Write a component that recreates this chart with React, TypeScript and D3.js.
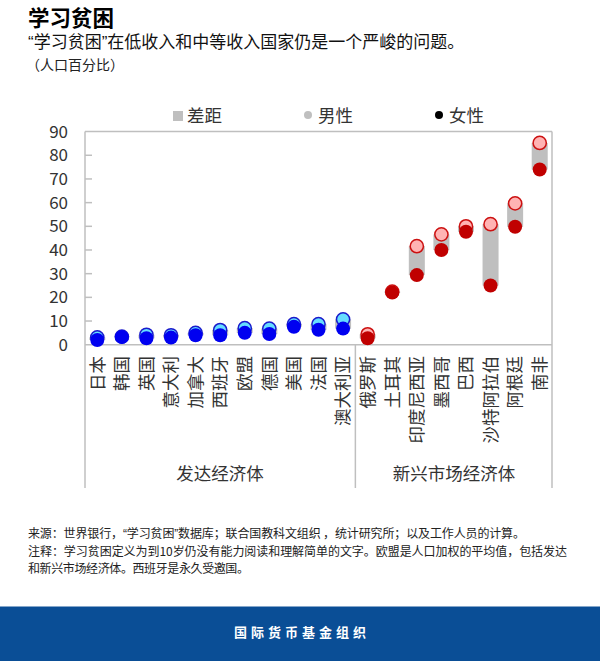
import React from "react";
import * as d3 from "d3";

const categories = ["日本","韩国","英国","意大利","加拿大","西班牙","欧盟","德国","美国","法国","澳大利亚","俄罗斯","土耳其","印度尼西亚","墨西哥","巴西","沙特阿拉伯","阿根廷","南非"];
const maleValues = [3.1,3.4,4.2,4.0,5.0,6.2,7.0,6.8,8.7,8.7,10.7,4.4,22.4,41.6,46.6,50,50.9,59.7,85.2];
const femaleValues = [2.0,3.2,2.7,3.0,4.0,4.0,5.0,4.5,7.6,6.3,6.8,2.7,22,29.4,40,47.7,25,49.8,74];
const yTicks = [0,10,20,30,40,50,60,70,80,90];
const advancedCount = 11;
const groupLabels = ["发达经济体","新兴市场经济体"];
const legendLabels = ["差距","男性","女性"];
const subtitle = "“学习贫困”在低收入和中等收入国家仍是一个严峻的问题。";
const sources = [
  "来源：世界银行，“学习贫困”数据库；联合国教科文组织 ，统计研究所；以及工作人员的计算。",
  "注释：学习贫困定义为到10岁仍没有能力阅读和理解简单的文字。欧盟是人口加权的平均值，包括发达",
  "和新兴市场经济体。西班牙是永久受邀国。",
];
const sourceWidths = [497, 539, 221];

const FONT = "'Noto Sans CJK SC', sans-serif";
const LEFT = 85, RIGHT = 552, TOP = 131.6, BASE = 344.7, BOTTOM = 488;
const AXIS = "#bfbfbf", INK = "#333";

// The reference sets its curly quotes narrow, so they take a Latin face.
function narrowQuotes(s: string) {
  return s.split(/([“”])/).map((part, i) =>
    part === "“" || part === "”"
      ? <tspan key={i} fontFamily="'Liberation Sans'">{part}</tspan>
      : <tspan key={i}>{part}</tspan>
  );
}

export default function App() {
  const x = d3.scaleBand<string>().domain(categories).range([LEFT, RIGHT]);
  const y = d3.scaleLinear().domain([0, 90]).range([BASE, TOP]);
  const bw = x.bandwidth();
  const divider = LEFT + advancedCount * bw;
  return (
    <svg width={600} height={661} viewBox="0 0 600 661" style={{ position: "absolute", left: 0, top: 0, background: "#fff" }} fontFamily={FONT}>
      <text x={28} y={25.5} fontSize={21.5} fontWeight={700} fill="#000">学习贫困</text>
      <text x={28} y={48} fontSize={17} fill="#111">{narrowQuotes(subtitle)}</text>
      <text x={26} y={70} fontSize={14} fill="#222">（人口百分比）</text>

      <rect x={173} y={111} width={10} height={10} fill={AXIS} />
      <text x={187} y={121.5} fontSize={17.5} fill={INK}>{legendLabels[0]}</text>
      <circle cx={308} cy={115} r={4} fill={AXIS} />
      <text x={318} y={121.5} fontSize={17.5} fill={INK}>{legendLabels[1]}</text>
      <circle cx={439} cy={115} r={4} fill="#000" />
      <text x={449} y={121.5} fontSize={17.5} fill={INK}>{legendLabels[2]}</text>

      <g fill="none" stroke={AXIS} strokeWidth={1.5}>
        <line x1={LEFT} x2={LEFT} y1={y(90)} y2={BOTTOM} />
        <line x1={RIGHT} x2={RIGHT} y1={y(90)} y2={BOTTOM} />
        <line x1={LEFT} x2={RIGHT} y1={y(90)} y2={y(90)} />
        <line x1={LEFT} x2={RIGHT} y1={y(0)} y2={y(0)} />
        <line x1={divider} x2={divider} y1={y(0)} y2={BOTTOM} />
        {yTicks.filter(t => t > 0 && t < 90).map(t => (
          <line key={t} x1={LEFT} x2={LEFT + 7} y1={y(t)} y2={y(t)} />
        ))}
      </g>
      {yTicks.map(t => (
        <text key={t} x={68} y={y(t)} dy="0.35em" textAnchor="end" fontSize={17} fill={INK}>{t}</text>
      ))}

      {categories.map((c, i) => {
        const cx = (x(c) as number) + bw / 2;
        const adv = i < advancedCount;
        const top = y(maleValues[i]), bot = y(femaleValues[i]);
        return (
          <g key={c}>
            <rect x={cx - 8} y={top} width={16} height={bot - top} fill={AXIS} />
            <circle cx={cx} cy={top} r={6.6} fill={adv ? "#66ddff" : "#ffb3b3"} stroke={adv ? "#1a1acc" : "#cc1111"} strokeWidth={1.5} />
            <circle cx={cx} cy={bot} r={7} fill={adv ? "#0000f0" : "#c00000"} />
            <text transform={`translate(${cx},356) rotate(-90)`} dy="0.36em" textAnchor="end" fontSize={17.5} fill={INK}>{c}</text>
          </g>
        );
      })}

      <text x={220} y={480} textAnchor="middle" fontSize={17.5} fill={INK}>{groupLabels[0]}</text>
      <text x={454} y={480} textAnchor="middle" fontSize={17.5} fill={INK}>{groupLabels[1]}</text>

      {sources.map((s, i) => (
        <text key={i} x={28} y={538 + i * 17.5} fontSize={12} textLength={sourceWidths[i]} fill="#222">{narrowQuotes(s)}</text>
      ))}

      <rect x={0} y={606.5} width={600} height={54.5} fill="#0a4e96" />
      <text x={302} y={636.5} textAnchor="middle" fontSize={13} fontWeight={700} letterSpacing={4} fill="#fff">国际货币基金组织</text>
    </svg>
  );
}
